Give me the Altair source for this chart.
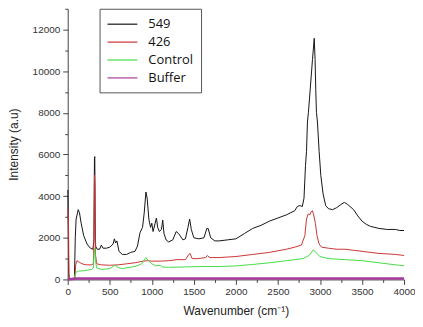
import altair as alt
import pandas as pd

# ---- data ----
wn_549 = [2, 12, 20, 80, 90, 100, 125, 140, 160, 190, 230, 270, 300, 312, 318, 322, 326, 332, 350, 380,
          400, 420, 460, 500, 540, 555, 570, 585, 610, 650, 700, 750, 800, 830, 860, 890, 910, 930, 945,
          965, 985, 1000, 1015, 1040, 1055, 1070, 1090, 1115, 1130, 1145, 1170, 1200, 1250, 1290, 1320,
          1370, 1400, 1430, 1450, 1470, 1500, 1560, 1620, 1655, 1670, 1700, 1750, 1800, 1900, 2000, 2100,
          2200, 2300, 2400, 2500, 2600, 2700, 2730, 2760, 2790, 2810, 2828, 2840, 2851, 2863, 2884, 2911,
          2932, 2942, 2950, 2958, 2970, 2990, 3010, 3037, 3068, 3100, 3150, 3200, 3250, 3290, 3330, 3400,
          3450, 3500, 3550, 3600, 3700, 3800, 3900, 3950, 4000]
int_549 = [4300, 300, 0, 0, 2000, 2900, 3350, 3200, 2700, 2100, 1700, 1500, 1450, 1900, 5800, 5900, 3000,
           1600, 1450, 1450, 1650, 1500, 1500, 1550, 1700, 1950, 1750, 1850, 1350, 1200, 1200, 1300, 1350,
           1600, 2250, 2500, 3200, 4200, 3900, 2900, 2500, 2700, 2300, 2700, 2950, 2500, 2300, 2400, 2850,
           2200, 1900, 1800, 1900, 2300, 2200, 1900, 1950, 2500, 2900, 2400, 2000, 1950, 2000, 2450, 2450,
           2000, 1850, 1850, 1900, 1950, 2200, 2450, 2600, 2800, 2950, 3100, 3300, 3500, 3550, 3500, 3900,
           5480, 6150, 7560, 8030, 9130, 10560, 11580, 10560, 9130, 8030, 7560, 6150, 5000, 4110, 3550,
           3400, 3350, 3450, 3600, 3700, 3600, 3350, 3050, 2800, 2650, 2550, 2450, 2400, 2400, 2350, 2350]

wn_426 = [2, 10, 15, 20, 85, 95, 110, 130, 170, 220, 280, 305, 312, 318, 324, 330, 345, 400, 500, 600,
          700, 800, 900, 950, 1000, 1100, 1200, 1300, 1400, 1440, 1455, 1480, 1550, 1640, 1660, 1690, 1800,
          2000, 2200, 2400, 2600, 2700, 2780, 2820, 2840, 2860, 2880, 2895, 2910, 2925, 2945, 2965, 2990,
          3020, 3100, 3200, 3300, 3400, 3500, 3700, 3900, 4000]
int_426 = [3400, 2500, 200, 0, 0, 700, 900, 850, 750, 700, 700, 750, 2000, 5000, 4500, 1200, 750, 700,
           680, 700, 750, 800, 880, 900, 880, 880, 900, 950, 950, 1200, 1250, 1000, 1000, 1050, 1150, 1050,
           1050, 1100, 1200, 1300, 1450, 1550, 1650, 2100, 2900, 3150, 3100, 3250, 3300, 3100, 2700, 2100,
           1700, 1550, 1500, 1450, 1450, 1400, 1350, 1250, 1200, 1150]

wn_ctrl = [0, 70, 85, 100, 130, 200, 280, 305, 315, 322, 330, 345, 400, 500, 550, 570, 590, 650, 700, 800,
           880, 930, 960, 1000, 1050, 1100, 1130, 1200, 1400, 1600, 1800, 2000, 2200, 2400, 2600, 2800,
           2870, 2920, 2950, 3000, 3100, 3300, 3500, 3700, 3900, 4000]
int_ctrl = [0, 0, 200, 350, 400, 420, 480, 550, 1300, 1480, 900, 550, 480, 520, 650, 700, 580, 520, 560,
            620, 750, 1050, 900, 750, 650, 680, 600, 580, 600, 620, 620, 650, 720, 800, 900, 1000, 1150,
            1420, 1300, 1100, 1000, 950, 900, 800, 700, 660]

wn_buf = [0, 100, 1000, 2000, 3000, 4000]
int_buf = [0, 40, 40, 40, 40, 40]

series_names = ["549", "426", "Control", "Buffer"]
series_colors = ["#151515", "#cc3535", "#46dc46", "#a63c9a"]

x_ticks = list(range(0, 4001, 250))
y_ticks = list(range(0, 13001, 1000))

rows = []
for name, xs, ys in [("549", wn_549, int_549), ("426", wn_426, int_426),
                     ("Control", wn_ctrl, int_ctrl), ("Buffer", wn_buf, int_buf)]:
    for a, b in zip(xs, ys):
        rows.append({"series": name, "wn": a, "intensity": b})
df = pd.DataFrame(rows)

FONT = "Liberation Sans"

chart = alt.Chart(df).mark_line(strokeJoin="round").encode(
    x=alt.X("wn:Q",
            scale=alt.Scale(domain=[0, 4000], nice=False, zero=False),
            axis=alt.Axis(title="Wavenumber (cm\u207b\u00b9)", values=x_ticks, format="d",
                          labelExpr="datum.value % 500 === 0 ? datum.label : ''",
                          tickSize={"condition": {"test": "datum.value % 500 === 0", "value": 5}, "value": 3},
                          labelOverlap=False, labelFlush=False, labelPadding=2,
                          titlePadding=9, grid=False)),
    y=alt.Y("intensity:Q",
            scale=alt.Scale(domain=[0, 13000], nice=False),
            axis=alt.Axis(title="Intensity (a.u)", values=y_ticks, format="d",
                          labelExpr="datum.value % 2000 === 0 ? datum.label : ''",
                          tickSize={"condition": {"test": "datum.value % 2000 === 0", "value": 5}, "value": 3},
                          labelOverlap=False, labelFlush=False, labelPadding=3,
                          titlePadding=12, grid=False)),
    color=alt.Color("series:N",
                    scale=alt.Scale(domain=series_names, range=series_colors),
                    sort=series_names,
                    legend=alt.Legend(title=None, orient="none", legendX=32, legendY=0,
                                      symbolType="M-1,0H3", symbolSize=225, symbolStrokeWidth=1.2,
                                      labelFontSize=13, labelFont="Open Sans", labelOffset=25,
                                      labelColor="#111111", rowPadding=2,
                                      strokeColor="#555555", fillColor="white", padding=7)),
    strokeWidth=alt.condition(alt.datum.series == "Buffer", alt.value(2.5), alt.value(1.0)),
).properties(
    width=338, height=272,
    autosize=alt.AutoSizeParams(type="none"),
    padding={"left": 60, "top": 0, "right": 11, "bottom": 40},
).configure_view(
    stroke=None
).configure_axis(
    domainColor="#444444", tickColor="#444444", labelColor="#333333",
    labelFont=FONT, labelFontSize=10, titleFont=FONT, titleFontSize=12,
    titleFontWeight="normal", titleColor="#222222", domainWidth=1, tickWidth=1
)

chart.save("out.html", embed_options={"renderer": "svg", "actions": False})
